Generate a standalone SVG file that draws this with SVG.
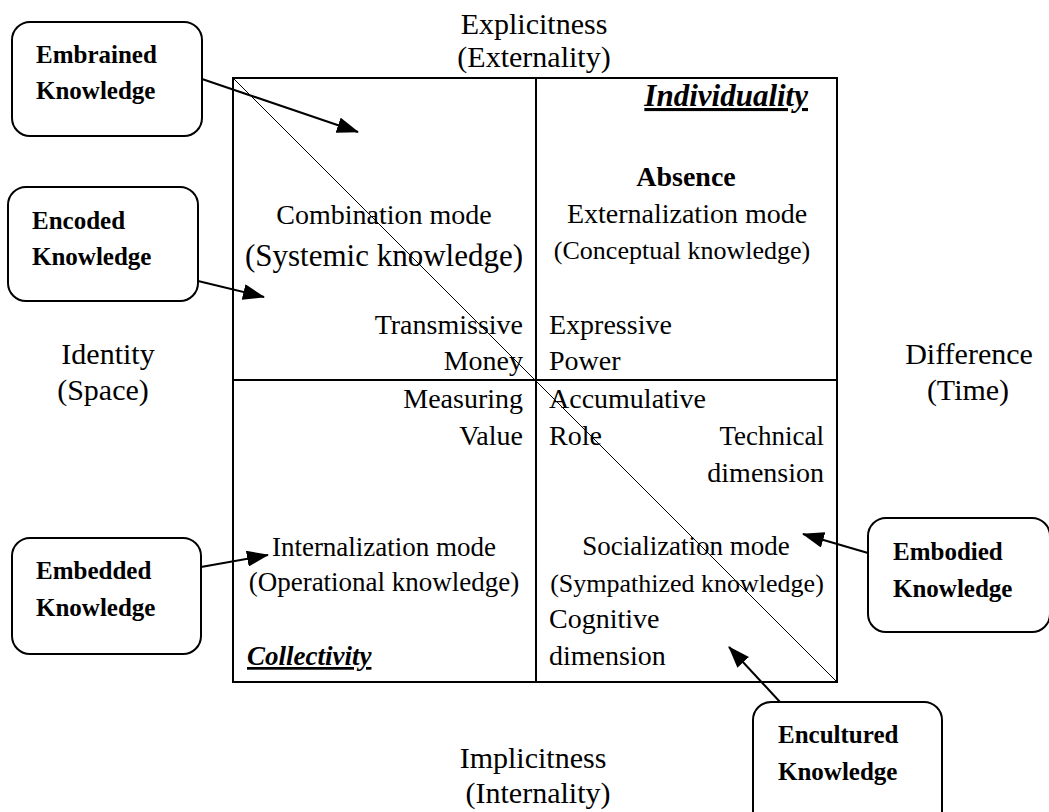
<svg xmlns="http://www.w3.org/2000/svg" width="1049" height="812" viewBox="0 0 1049 812">
<defs>
<style>
.t{font-family:"Liberation Serif","Times New Roman",serif;font-size:28px;fill:#000}
.ax{font-size:30px}
.b{font-family:"Liberation Serif","Times New Roman",serif;font-size:25px;font-weight:bold;fill:#000}
.bi{font-weight:bold;font-style:italic;text-decoration:underline}
.box{fill:#fff;stroke:#000;stroke-width:2}
.con{stroke:#000;stroke-width:2;fill:none;marker-end:url(#ah)}
</style>
<marker id="ah" markerUnits="userSpaceOnUse" markerWidth="22" markerHeight="16" refX="21" refY="8" orient="auto">
<path d="M0,0 L22,8 L0,16 z" fill="#000"/>
</marker>
</defs>
<rect width="1049" height="812" fill="#fff"/>

<g id="matrix">
<rect x="233" y="78" width="604" height="604" fill="none" stroke="#000" stroke-width="2"/>
<line x1="536" y1="78" x2="536" y2="682" stroke="#000" stroke-width="2"/>
<line x1="233" y1="380" x2="837" y2="380" stroke="#000" stroke-width="2"/>
<line x1="233" y1="78" x2="837" y2="682" stroke="#000" stroke-width="1"/>
</g>

<g id="axis-labels">
<text class="t ax" x="534" y="34" text-anchor="middle">Explicitness</text>
<text class="t ax" x="534" y="67" text-anchor="middle">(Externality)</text>
<text class="t ax" x="108" y="364" text-anchor="middle">Identity</text>
<text class="t ax" x="103" y="400" text-anchor="middle">(Space)</text>
<text class="t ax" x="969" y="364" text-anchor="middle">Difference</text>
<text class="t ax" x="968" y="400" text-anchor="middle">(Time)</text>
<text class="t ax" x="533" y="768" text-anchor="middle">Implicitness</text>
<text class="t ax" x="538" y="803" text-anchor="middle">(Internality)</text>
</g>

<g id="quadrant-top-left">
<text class="t" x="384" y="224" text-anchor="middle">Combination mode</text>
<text class="t" x="384" y="266" text-anchor="middle" style="font-size:31px">(Systemic knowledge)</text>
<text class="t" x="523" y="334" text-anchor="end">Transmissive</text>
<text class="t" x="523" y="370" text-anchor="end">Money</text>
</g>

<g id="quadrant-top-right">
<text class="t bi" x="808" y="106" text-anchor="end" style="font-size:31px">Individuality</text>
<text class="t" x="686" y="186" text-anchor="middle" style="font-weight:bold">Absence</text>
<text class="t" x="687" y="223" text-anchor="middle">Externalization mode</text>
<text class="t" x="682" y="259" text-anchor="middle" style="font-size:26px">(Conceptual knowledge)</text>
<text class="t" x="549" y="334">Expressive</text>
<text class="t" x="549" y="370">Power</text>
</g>

<g id="quadrant-bottom-left">
<text class="t" x="523" y="408" text-anchor="end">Measuring</text>
<text class="t" x="523" y="445" text-anchor="end">Value</text>
<text class="t" x="384" y="556" text-anchor="middle" style="font-size:27px">Internalization mode</text>
<text class="t" x="384" y="591" text-anchor="middle" style="font-size:27px">(Operational knowledge)</text>
<text class="t bi" x="247" y="665" style="font-size:27px">Collectivity</text>
</g>

<g id="quadrant-bottom-right">
<text class="t" x="549" y="408">Accumulative</text>
<text class="t" x="549" y="445">Role</text>
<text class="t" x="824" y="445" text-anchor="end" style="font-size:27px">Technical</text>
<text class="t" x="824" y="482" text-anchor="end">dimension</text>
<text class="t" x="686" y="555" text-anchor="middle" style="font-size:27px">Socialization mode</text>
<text class="t" x="687" y="592" text-anchor="middle" style="font-size:26px">(Sympathized knowledge)</text>
<text class="t" x="549" y="628">Cognitive</text>
<text class="t" x="549" y="665">dimension</text>
</g>

<g id="embrained">
<rect class="box" x="12" y="22" width="190" height="114" rx="18"/>
<text class="b" x="36" y="63">Embrained</text>
<text class="b" x="36" y="99">Knowledge</text>
</g>
<g id="encoded">
<rect class="box" x="8" y="187" width="190" height="114" rx="18"/>
<text class="b" x="32" y="229">Encoded</text>
<text class="b" x="32" y="265">Knowledge</text>
</g>
<g id="embedded">
<rect class="box" x="12" y="538" width="189" height="116" rx="18"/>
<text class="b" x="36" y="579">Embedded</text>
<text class="b" x="36" y="616">Knowledge</text>
</g>
<g id="embodied">
<rect class="box" x="868" y="518" width="182" height="114" rx="18"/>
<text class="b" x="893" y="560">Embodied</text>
<text class="b" x="893" y="597">Knowledge</text>
</g>
<g id="encultured">
<rect class="box" x="753" y="702" width="189" height="130" rx="18"/>
<text class="b" x="778" y="743">Encultured</text>
<text class="b" x="778" y="780">Knowledge</text>
</g>

<g id="connectors">
<line class="con" x1="202" y1="79" x2="358" y2="132"/>
<line class="con" x1="198" y1="281" x2="264" y2="297"/>
<line class="con" x1="201" y1="567" x2="268" y2="555"/>
<line class="con" x1="868" y1="553" x2="803" y2="534"/>
<line class="con" x1="780" y1="702" x2="729" y2="647"/>
</g>
</svg>
